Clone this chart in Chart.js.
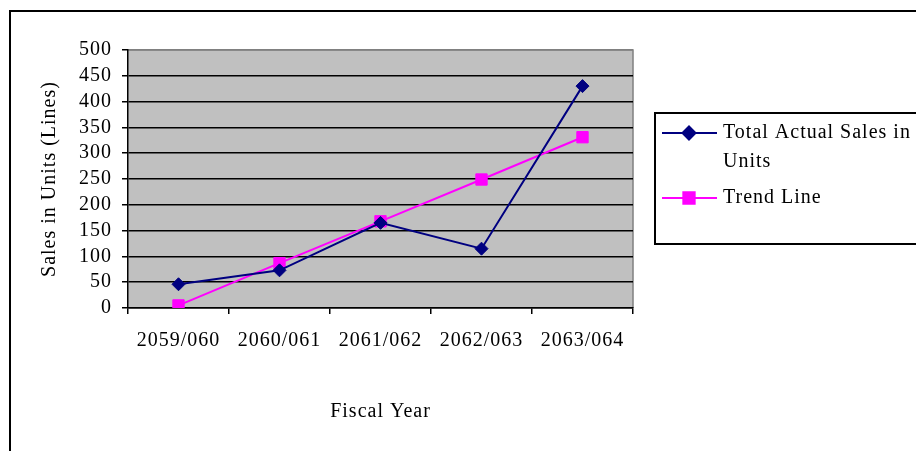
<!DOCTYPE html>
<html>
<head>
<meta charset="utf-8">
<script src="https://cdn.jsdelivr.net/npm/chart.js@4/dist/chart.umd.min.js"></script>
<style>
  html, body { margin: 0; padding: 0; background: #fff; overflow: hidden; }
  #wrap { position: relative; width: 916px; height: 451px; }
  #frame { position: absolute; left: 9px; top: 10px; width: 1000px; height: 1000px;
           border: 2px solid #000; box-sizing: border-box; pointer-events: none; }
  canvas { position: absolute; left: 0; top: 0; }
</style>
</head>
<body>
<div id="wrap">
  <div id="frame"></div>
  <canvas id="c" width="916" height="451"></canvas>
</div>
<script>
// Fiscal years and unit sales
const fiscalYears = ['2059/060', '2060/061', '2061/062', '2062/063', '2063/064'];
const actualSales = [46, 73, 165, 115, 430];
const trendSales = [5, 87, 168, 249, 331];
const seriesNames = ['Total Actual Sales in Units', 'Trend Line'];
const legendLines = [['Total Actual Sales in', 'Units'], ['Trend Line']];
const yTitle = 'Sales in Units (Lines)';
const xTitle = 'Fiscal Year';

const FONT = 'Liberation Serif, Times New Roman, serif';
const SIZE = 20;
const NAVY = '#000080';
const MAGENTA = '#FF00FF';
const SPACING = '1px';

// Serif text in this chart is set slightly tracked
const spacingPlugin = {
  id: 'spacing',
  beforeUpdate(chart) { chart.ctx.letterSpacing = SPACING; },
  beforeDraw(chart) { chart.ctx.letterSpacing = SPACING; }
};

// Grey plot background with a grey frame on top and right
const plotBackground = {
  id: 'plotBackground',
  beforeDraw(chart) {
    const { ctx, chartArea: a } = chart;
    ctx.save();
    ctx.fillStyle = '#C0C0C0';
    ctx.fillRect(a.left, a.top, a.right - a.left, a.bottom - a.top);
    ctx.strokeStyle = '#808080';
    ctx.lineWidth = 1.5;
    ctx.beginPath();
    ctx.moveTo(a.left, a.top);
    ctx.lineTo(a.right, a.top);
    ctx.lineTo(a.right, a.bottom);
    ctx.stroke();
    ctx.restore();
  }
};

// Boxed legend to the right of the plot, with wrapped series names
const boxedLegend = {
  id: 'boxedLegend',
  afterDraw(chart) {
    const { ctx } = chart;
    ctx.save();
    ctx.letterSpacing = SPACING;
    ctx.fillStyle = '#fff';
    ctx.fillRect(654, 112, 300, 132);
    ctx.strokeStyle = '#000';
    ctx.lineWidth = 2;
    ctx.strokeRect(655, 113, 300, 131);

    const rows = [133, 198];
    chart.data.datasets.forEach((ds, i) => {
      const y = rows[i];
      ctx.strokeStyle = ds.borderColor;
      ctx.lineWidth = 2;
      ctx.beginPath();
      ctx.moveTo(662, y);
      ctx.lineTo(717, y);
      ctx.stroke();
      ctx.fillStyle = ds.pointBackgroundColor;
      ctx.strokeStyle = ds.pointBorderColor;
      Chart.helpers.drawPoint(ctx, {
        pointStyle: ds.pointStyle, radius: ds.pointRadius,
        borderWidth: ds.pointBorderWidth, rotation: 0
      }, 689, y);
      ctx.fillStyle = '#000';
      ctx.font = SIZE + 'px ' + FONT;
      ctx.textAlign = 'left';
      ctx.textBaseline = 'middle';
      legendLines[i].forEach((line, j) => ctx.fillText(line, 723, y + j * 29));
    });
    ctx.restore();
  }
};

new Chart(document.getElementById('c'), {
  type: 'line',
  data: {
    labels: fiscalYears,
    datasets: [
      {
        label: seriesNames[0],
        data: actualSales,
        borderColor: NAVY,
        borderWidth: 2,
        pointStyle: 'rectRot',
        pointRadius: 6.5,
        pointBorderWidth: 1,
        pointBackgroundColor: NAVY,
        pointBorderColor: NAVY,
        tension: 0
      },
      {
        label: seriesNames[1],
        data: trendSales,
        borderColor: MAGENTA,
        borderWidth: 2,
        pointStyle: 'rect',
        pointRadius: 8,
        pointBorderWidth: 1,
        pointBackgroundColor: MAGENTA,
        pointBorderColor: MAGENTA,
        tension: 0
      }
    ]
  },
  options: {
    responsive: false,
    animation: false,
    events: [],
    layout: { padding: { left: 0, top: 50, right: 283, bottom: 0 } },
    plugins: { legend: { display: false }, tooltip: { enabled: false } },
    scales: {
      x: {
        offset: true,
        afterFit(scale) { scale.height = 143; },
        grid: {
          offset: true,
          drawOnChartArea: false,
          drawTicks: true,
          tickLength: 6,
          color: '#000',
          lineWidth: 1.5
        },
        border: { color: '#000', width: 1.5 },
        ticks: { color: '#000', font: { family: FONT, size: SIZE }, padding: 15, maxRotation: 0, autoSkip: false },
        title: {
          display: true, text: xTitle, color: '#000',
          font: { family: FONT, size: SIZE }, padding: { top: 0, bottom: 27 }
        }
      },
      y: {
        min: 0,
        max: 500,
        afterFit(scale) { scale.width = 128; },
        grid: {
          color: ctx => (ctx.tick && ctx.tick.value === 500 ? '#808080' : '#000'),
          lineWidth: 1.5,
          tickLength: 6,
          tickColor: '#000'
        },
        border: { color: '#000', width: 1.5 },
        ticks: { stepSize: 50, autoSkip: false, color: '#000', font: { family: FONT, size: SIZE }, padding: 10 },
        title: {
          display: true, text: yTitle, color: '#000',
          font: { family: FONT, size: SIZE }, padding: { top: 38, bottom: 0 }
        }
      }
    }
  },
  plugins: [spacingPlugin, plotBackground, boxedLegend]
});
</script>
</body>
</html>
